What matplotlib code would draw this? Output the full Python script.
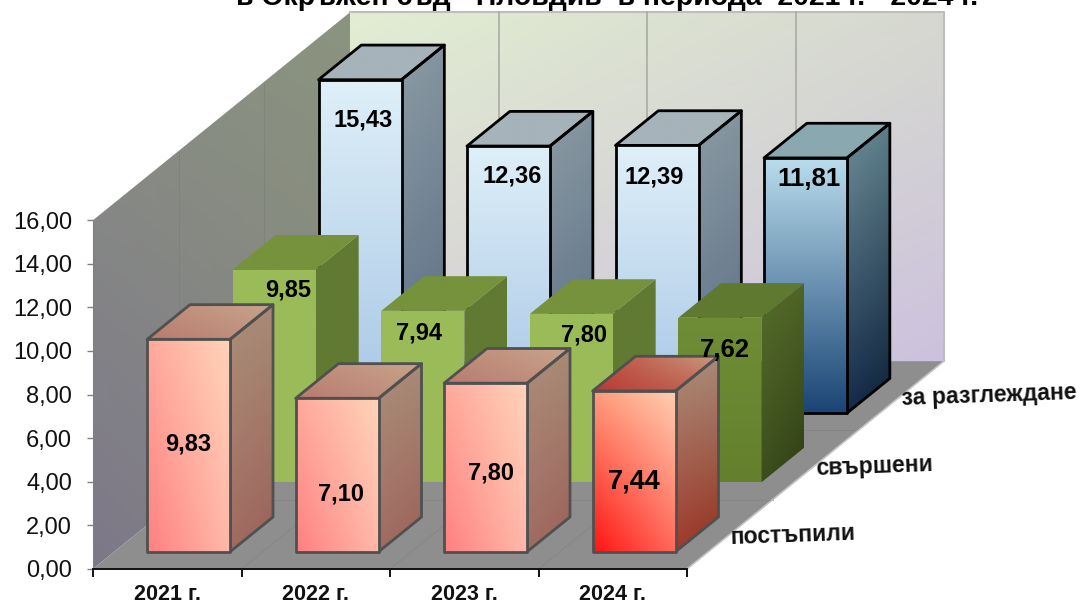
import numpy as np
import matplotlib
matplotlib.use('Agg')
import matplotlib.pyplot as plt
from matplotlib.colors import to_rgb
from matplotlib.patches import Polygon

plt.rcParams['font.family'] = ['Liberation Sans', 'DejaVu Sans']

categories = ['2021 г.', '2022 г.', '2023 г.', '2024 г.']
rows = ['постъпили', 'свършени', 'за разглеждане']
postapili = [9.83, 7.10, 7.80, 7.44]
svarsheni = [9.85, 7.94, 7.80, 7.62]
za_razglejdane = [15.43, 12.36, 12.39, 11.81]
value_ticks = [0, 2, 4, 6, 8, 10, 12, 14, 16]

W, H = 1081, 605
# pixels of the chart box
x0_px, y0_px = 93, 569
cat_px, val_px = 148.5, 21.8
depth_dx_px, depth_dy_px = 85.67, 69.3   # one row of depth
bar_scale = 0.991   # the bars come out a bit shorter than the axis in the view

fig = plt.figure(figsize=(W/100, H/100), dpi=100, facecolor='white')
ax = fig.add_axes([0, 0, 1, 1])
xlim = (-x0_px/cat_px, (W-x0_px)/cat_px)
ylim = ((y0_px-H)/val_px, y0_px/val_px)
ax.set_facecolor('none')

dx = depth_dx_px/cat_px
dy = depth_dy_px/val_px

def pt(c, d, v):
    # category, depth in rows, value -> axes data coords (oblique view)
    return (c + d*dx, v + d*dy)

def grad_face(verts, tl, tr, bl, br, zorder, edge=None, lw=2):
    verts = np.array(verts)
    xa, xb = verts[:, 0].min(), verts[:, 0].max()
    ya, yb = verts[:, 1].min(), verts[:, 1].max()
    n = 40
    u, v = np.meshgrid(np.linspace(0, 1, n), np.linspace(0, 1, n))
    u, v = u[..., None], v[..., None]
    img = (np.array(to_rgb(bl))*(1-u)*(1-v) + np.array(to_rgb(br))*u*(1-v)
           + np.array(to_rgb(tl))*(1-u)*v + np.array(to_rgb(tr))*u*v)
    im = ax.imshow(img, extent=(xa, xb, ya, yb), origin='lower', aspect='auto',
                   interpolation='bilinear', zorder=zorder)
    clip = Polygon(verts, closed=True, transform=ax.transData)
    im.set_clip_path(clip)
    if edge:
        ax.add_patch(Polygon(verts, closed=True, fill=False, edgecolor=edge, lw=lw,
                             joinstyle='round', zorder=zorder+0.1))

# walls and floor
grad_face([pt(0, 0, 0), pt(0, 3, 0), pt(0, 3, 16), pt(0, 0, 16)],
          '#8a8f84', '#8b947f', '#7d7889', '#84847f', 1)
grad_face([pt(0, 3, 0), pt(4, 3, 0), pt(4, 3, 16), pt(0, 3, 16)],
          '#e2edd2', '#d6d8d0', '#d8d4d8', '#cdc2de', 1)
ax.add_patch(Polygon([pt(0, 0, 0), pt(4, 0, 0), pt(4, 3, 0), pt(0, 3, 0)],
                     closed=True, fc='#8e8e8e', ec='none', zorder=1))
# wall rim
ax.plot(*zip(pt(0, 3, 16), pt(4, 3, 16), pt(4, 3, 0)), color='#bdbdbd', lw=1.5, zorder=1.2)
for c in range(1, 4):
    ax.plot(*zip(pt(c, 3, 0), pt(c, 3, 16)), color='#a8aca4', lw=1.2, zorder=1.2)
    ax.plot(*zip(pt(c, 0, 0), pt(c, 3, 0)), color='#858585', lw=0.6, zorder=1.2)
for d in range(1, 3):
    ax.plot(*zip(pt(0, d, 0), pt(0, d, 16)), color='#7f8279', lw=0.6, zorder=1.2)
    ax.plot(*zip(pt(0, d, 0), pt(4, d, 0)), color='#858585', lw=0.6, zorder=1.2)
ax.plot(*zip(pt(4, 0, 0), pt(4, 3, 0)), color='#c4c4c4', lw=1.2, zorder=1.2)

pink = dict(front=('#ffa99b', '#ffd2b8', '#ff8080', '#ffb8a8'),
            side=('#ab8e7a', '#a88a76', '#a06c62', '#9c6058'),
            top=('#c08c78', '#c8a48c', '#b87c70', '#c09480'), edge='#505050')
red = dict(front=('#ff9a7a', '#ffcdb0', '#ff1414', '#ff6a5a'),
           side=('#ab8e7a', '#a88a76', '#a03a2c', '#943020'),
           top=('#c04c3c', '#c89a80', '#b83c34', '#c06a58'), edge='#505050')
green = dict(front=('#9bbb59', '#9bbb59', '#9bbb59', '#9bbb59'),
             side=('#617a32', '#617a32', '#617a32', '#617a32'),
             top=('#76923c', '#76923c', '#76923c', '#76923c'), edge=None)
green_dark = dict(front=('#6f8d36', '#6f8d36', '#64802e', '#64802e'),
                  side=('#566e2a', '#4f6426', '#3c4e1e', '#303e16'),
                  top=('#5f7a30', '#5f7a30', '#5f7a30', '#5f7a30'), edge=None)
blue = dict(front=('#deeff8', '#deeff8', '#a8c6e6', '#a8c6e6'),
            side=('#8c9ba4', '#84949e', '#5c7086', '#566a82'),
            top=('#a6b3ba', '#a6b3ba', '#a6b3ba', '#a6b3ba'), edge='#000000')
blue_dark = dict(front=('#b8dcec', '#b8dcec', '#1c4676', '#1c4676'),
                 side=('#6e8e98', '#5c7c88', '#142c4c', '#0c2038'),
                 top=('#8aa8b0', '#8aa8b0', '#8aa8b0', '#8aa8b0'), edge='#000000')

series = [postapili, svarsheni, za_razglejdane]
styles = [[pink, pink, pink, red],
          [green, green, green, green_dark],
          [blue, blue, blue, blue_dark]]
# label shift from the top centre of the front face, pixels (right, down)
label_shift = [[(0, 107), (4, 97), (5, 91), (0, 92)],
               [(14, 22), (-4, 24), (13, 23), (5, 34)],
               [(3, 43), (4, 32), (-3, 34), (3, 23)]]
label_size = [[17, 17, 17, 19.5], [17, 17, 17, 18.5], [17, 17, 17, 18.5]]

bar_w = 83/cat_px
# back row first so nearer bars cover the far ones
z = 2
for r in [2, 1, 0]:
    for c, val in enumerate(series[r]):
        st = styles[r][c]
        h = val*bar_scale
        l, m = c + (1-bar_w)/2, c + (1+bar_w)/2
        d1, d2 = r+0.25, r+0.75
        grad_face([pt(m, d1, 0), pt(m, d2, 0), pt(m, d2, h), pt(m, d1, h)], *st['side'], z, st['edge'])
        grad_face([pt(l, d1, h), pt(m, d1, h), pt(m, d2, h), pt(l, d2, h)], *st['top'], z, st['edge'])
        grad_face([pt(l, d1, 0), pt(m, d1, 0), pt(m, d1, h), pt(l, d1, h)], *st['front'], z+0.2, st['edge'])
        z += 1

for r in range(3):
    for c, val in enumerate(series[r]):
        sx, sy = label_shift[r][c]
        ax.annotate(f'{val:.2f}'.replace('.', ','), xy=pt(c+0.5, r+0.25, val),
                    xytext=(sx, -sy), textcoords='offset pixels', ha='center', va='center',
                    fontsize=label_size[r][c], fontweight='bold', color='black', zorder=50)
    ax.annotate(rows[r], xy=pt(4, r+0.5, 0), xytext=(0, -3), textcoords='offset pixels',
                ha='left', va='center', rotation=2, rotation_mode='anchor',
                fontsize=16.6, fontweight='bold', color='#111111', zorder=50)

# axes
for s in ['top', 'right']:
    ax.spines[s].set_visible(False)
ax.spines['left'].set_position(('data', 0))
ax.spines['left'].set_bounds(0, 16)
ax.spines['left'].set_color('#808080')
ax.spines['bottom'].set_position(('data', 0))
ax.spines['bottom'].set_bounds(0, 4)
ax.spines['bottom'].set_color('#111111')
ax.spines['bottom'].set_linewidth(1.4)
ax.set_yticks(value_ticks)
ax.set_yticklabels([f'{v:.2f}'.replace('.', ',') for v in value_ticks], fontsize=17, color='#111111')
ax.tick_params(axis='y', length=4, width=1, color='#808080', pad=11)
ax.set_xticks(range(5))
ax.set_xticklabels([])
ax.tick_params(axis='x', which='major', length=5.5, width=1.4, color='#111111')
ax.set_xticks(np.arange(4)+0.5, minor=True)
ax.set_xticklabels(categories, minor=True, fontsize=15.5, fontweight='bold', color='#111111')
ax.tick_params(axis='x', which='minor', length=0, pad=10.5)

fig.text(607/W, 1-5/H, 'в Окръжен съд - Пловдив  в периода  2021 г. - 2024 г.', ha='center', va='baseline',
         fontsize=20.4, fontweight='bold', color='black')

ax.set_xlim(xlim)
ax.set_ylim(ylim)
fig.savefig('out.png', dpi=100)
